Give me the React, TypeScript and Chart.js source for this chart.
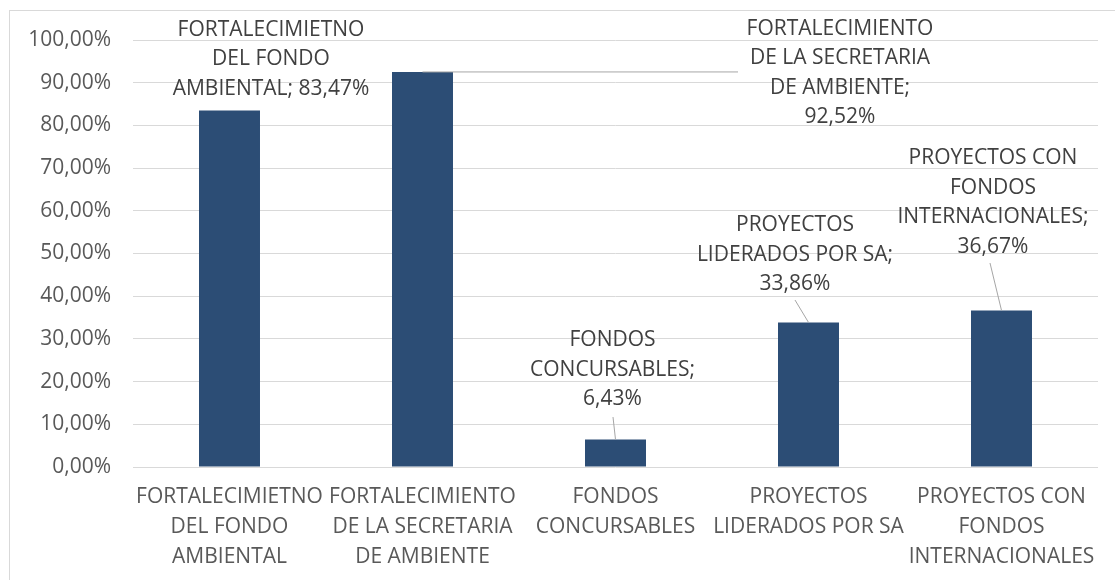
import React, { useEffect, useRef } from "react";
import { Chart, registerables } from "chart.js";

Chart.register(...registerables);

// ---- data ----
const categories = [
  "FORTALECIMIETNO DEL FONDO AMBIENTAL",
  "FORTALECIMIENTO DE LA SECRETARIA DE AMBIENTE",
  "FONDOS CONCURSABLES",
  "PROYECTOS LIDERADOS POR SA",
  "PROYECTOS CON FONDOS INTERNACIONALES",
];
const axisLabelLines = [
  ["FORTALECIMIETNO", "DEL FONDO", "AMBIENTAL"],
  ["FORTALECIMIENTO", "DE LA SECRETARIA", "DE AMBIENTE"],
  ["FONDOS", "CONCURSABLES"],
  ["PROYECTOS", "LIDERADOS POR SA"],
  ["PROYECTOS CON", "FONDOS", "INTERNACIONALES"],
];
const values = [83.47, 92.52, 6.43, 33.86, 36.67];
const dataLabelLines = [
  ["FORTALECIMIETNO", "DEL FONDO", "AMBIENTAL;"],
  ["FORTALECIMIENTO", "DE LA SECRETARIA", "DE AMBIENTE;"],
  ["FONDOS", "CONCURSABLES;"],
  ["PROYECTOS", "LIDERADOS POR SA;"],
  ["PROYECTOS CON", "FONDOS", "INTERNACIONALES;"],
];
const valueOnSameLine = [true, false, false, false, false];
const yMin = 0;
const yMax = 100;
const yStep = 10;

const fmt = (v: number) => v.toFixed(2).replace(".", ",") + "%";

const FONT = '"Open Sans", "Noto Sans", sans-serif';
const FONT_SIZE = 21;
const LINE_H = 29.5;

// placement of data labels relative to each bar's top-centre (pixels)
const labelPlacement = [
  { dx: 41.5, dy: -81, leader: null as null | number[] },
  { dx: 417.5, dy: -43, leader: [315.5, 0] },
  { dx: -3, dy: -99.5, leader: [-2.5, -22.5] },
  { dx: -13.5, dy: -97.4, leader: [-13.5, -22.4] },
  { dx: -8.5, dy: -152.4, leader: [-11.5, -47.4] },
];

const frameBorder = {
  id: "frameBorder",
  beforeDraw(chart: any) {
    const ctx = chart.ctx;
    ctx.save();
    ctx.fillStyle = "#ffffff";
    ctx.fillRect(0, 0, chart.width, chart.height);
    ctx.strokeStyle = "#D9D9D9";
    ctx.lineWidth = 1;
    ctx.strokeRect(9.5, 10.5, 3000, 3000);
    ctx.restore();
  },
};

const barLabels = {
  id: "barLabels",
  afterDatasetsDraw(chart: any) {
    const ctx = chart.ctx;
    const meta = chart.getDatasetMeta(0);
    ctx.save();
    ctx.font = `${FONT_SIZE}px ${FONT}`;
    ctx.fillStyle = "#404040";
    ctx.textAlign = "center";
    ctx.textBaseline = "middle";
    meta.data.forEach((bar: any, i: number) => {
      const p = labelPlacement[i];
      const base = dataLabelLines[i].slice();
      const v = fmt(values[i]);
      let lines: string[];
      if (valueOnSameLine[i]) {
        lines = base.slice(0, -1).concat([base[base.length - 1] + " " + v]);
      } else {
        lines = base.concat([v]);
      }
      const cx = bar.x + p.dx;
      const cy = bar.y + p.dy;
      lines.forEach((l, j) => ctx.fillText(l, cx, cy + j * LINE_H));
      if (p.leader) {
        ctx.strokeStyle = "#A6A6A6";
        ctx.lineWidth = 1;
        ctx.beginPath();
        ctx.moveTo(bar.x + p.leader[0], bar.y + p.leader[1]);
        ctx.lineTo(bar.x, bar.y);
        ctx.stroke();
      }
    });
    ctx.restore();
  },
};

export default function App() {
  const ref = useRef<HTMLCanvasElement | null>(null);
  useEffect(() => {
    if (!ref.current) return;
    const chart = new Chart(ref.current, {
      type: "bar",
      data: {
        labels: axisLabelLines,
        datasets: [
          {
            label: "Avance",
            data: values,
            backgroundColor: "#2C4D75",
            barPercentage: 0.316,
            categoryPercentage: 1,
          },
        ],
      },
      options: {
        responsive: false,
        animation: false,
        layout: { padding: { left: 0, top: 40, right: 17, bottom: 0 } },
        plugins: {
          legend: { display: false },
          tooltip: { enabled: false },
          title: { display: false },
        },
        scales: {
          x: {
            grid: { display: false, drawTicks: false },
            border: { display: false },
            ticks: {
              color: "#595959",
              font: { family: FONT, size: FONT_SIZE, lineHeight: "30px" as any },
              padding: 15,
              maxRotation: 0,
              minRotation: 0,
              autoSkip: false,
            },
            afterFit: (s: any) => {
              s.height = 113;
            },
          },
          y: {
            min: yMin,
            max: yMax,
            grid: { color: "#D9D9D9", lineWidth: 1, drawTicks: false },
            border: { display: false },
            ticks: {
              stepSize: yStep,
              color: "#595959",
              font: { family: FONT, size: FONT_SIZE },
              padding: 22,
              callback: (v: any) => fmt(Number(v)),
            },
            afterFit: (s: any) => {
              s.width = 133;
            },
          },
        },
      },
      plugins: [frameBorder, barLabels],
    });
    (document as any).fonts?.ready?.then(() => chart.update());
    return () => chart.destroy();
  }, []);
  return (
    <div style={{ position: "absolute", left: 0, top: 0, width: 1115, height: 580 }}>
      <canvas ref={ref} width={1115} height={580} aria-label={categories.join(", ")} />
    </div>
  );
}
